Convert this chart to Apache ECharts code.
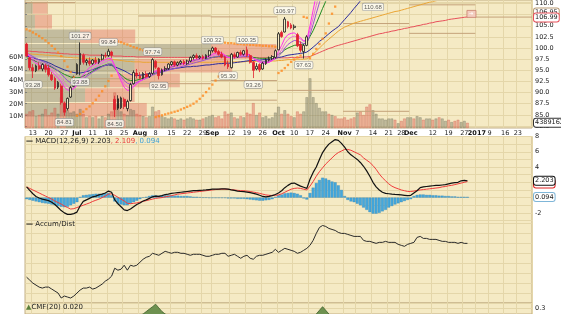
<!DOCTYPE html>
<html><head><meta charset="utf-8">
<script src="https://cdn.jsdelivr.net/npm/echarts@6/dist/echarts.min.js"></script>
<style>html,body{margin:0;padding:0;background:#fff}#c{width:561px;height:314px}</style>
</head><body><div id="c"></div><script>
// ---------- calendar / ticks ----------
const holidays=['2016-07-04','2016-09-05','2016-11-24','2016-12-26','2017-01-02','2017-01-16'];
const tickDates=['2016-06-13','2016-06-20','2016-06-27','2016-07-01','2016-07-11','2016-07-18','2016-07-25','2016-08-01','2016-08-08','2016-08-15','2016-08-22','2016-08-29','2016-09-01','2016-09-12','2016-09-19','2016-09-26','2016-10-03','2016-10-10','2016-10-17','2016-10-24','2016-11-01','2016-11-07','2016-11-14','2016-11-21','2016-11-28','2016-12-01','2016-12-12','2016-12-19','2016-12-27','2017-01-03','2017-01-09','2017-01-17','2017-01-23'];
const tickTexts=['13','20','27','Jul','11','18','25','Aug','8','15','22','29','Sep','12','19','26','Oct','10','17','24','Nov','7','14','21','28','Dec','12','19','27','2017','9','16','23'];

// ---------- price (OHLC) ----------
const openP=[100.9,97.8,95.6,94.9,96.0,95.3,96.1,95.5,94.0,93.2,
91.2,91.5,87.6,86.4,89.0,91.4,94.2,96.3,98.4,96.8,
97.1,96.5,97.3,96.8,97.5,98.4,98.3,99.1,88.5,88.6,
86.6,88.5,86.4,88.2,92.0,94.4,93.8,93.2,94.2,93.6,
94.3,97.0,95.5,94.0,95.1,95.4,96.3,96.9,96.2,96.6,
97.0,96.5,97.1,97.9,98.3,97.8,98.1,97.7,98.4,99.4,
100.0,99.2,98.6,98.0,96.4,95.6,98.5,98.0,99.0,98.6,
99.6,98.3,96.8,95.3,96.3,95.3,96.5,97.3,97.6,97.9,
99.6,103.5,103.6,105.9,105.2,104.6,103.0,100.8,99.2,100.6,
116.0,117.6,119.9,120.6,121.7,122.9,123.4,122.5,123.8,122.6,
121.3,120.1,118.9,117.5,116.3,115.4,116.7,115.1,113.9,113.0,
112.4,113.9,115.3,116.6,117.4,118.0,118.7,119.2,119.1,119.4,
118.7,118.3,119.0,119.6,119.2,119.9,120.4,120.2,121.0,121.3,
120.9,121.4,121.1,121.8,122.1,121.7,122.2,121.9,121.6,122.0,
122.4];
const highP=[101.2,98.0,96.4,96.3,96.8,96.6,96.5,96.2,94.6,93.6,
92.6,92.0,88.0,88.9,91.5,93.8,96.6,101.27,98.8,97.6,
97.9,97.5,98.0,97.7,98.7,99.0,99.84,99.4,89.3,89.4,
89.1,88.9,88.4,92.2,95.0,95.3,94.6,94.6,94.8,94.6,
97.74,97.3,95.7,95.4,95.9,96.6,97.1,97.2,97.0,97.3,
97.4,97.4,98.1,98.6,98.8,98.4,98.5,98.6,99.6,100.32,
100.2,99.6,99.2,98.3,97.2,98.9,99.0,99.2,99.5,99.6,
100.35,98.6,97.1,96.6,96.6,96.9,97.7,98.1,98.4,99.7,
103.6,103.9,106.97,106.1,105.6,105.3,103.4,101.5,100.9,102.9,
118.4,120.4,121.2,122.3,123.4,124.6,123.9,124.5,124.2,123.0,
121.9,120.6,119.5,118.2,117.0,117.4,117.1,115.8,114.6,113.6,
114.3,115.8,117.0,117.9,118.5,119.1,119.8,119.6,119.9,119.8,
119.2,119.4,120.1,120.0,120.3,120.9,120.8,121.4,121.8,121.6,
121.9,121.7,122.2,122.6,122.4,122.7,122.5,122.2,122.4,122.9,
122.8];
const lowP=[98.0,95.0,93.28,94.6,95.0,94.8,94.5,93.6,92.6,90.6,
90.8,87.3,84.81,86.0,88.8,91.2,94.0,93.88,96.3,96.1,
96.0,96.2,96.4,96.4,97.2,97.7,98.0,97.8,84.50,86.1,
86.3,86.3,85.8,88.0,91.8,93.2,93.0,93.0,93.2,93.3,
94.0,95.3,92.95,93.8,94.8,95.1,96.0,95.8,95.9,96.3,
96.2,96.2,96.8,97.4,97.5,97.5,97.4,97.5,98.0,99.0,
98.8,98.3,97.7,95.9,95.30,95.4,97.6,97.8,98.3,98.3,
98.0,96.5,93.26,95.0,94.6,95.1,96.2,97.0,97.3,97.6,
99.5,102.3,103.5,104.4,104.2,104.1,100.2,99.0,97.63,100.4,
115.2,117.0,119.2,120.0,121.2,122.3,121.8,122.0,122.0,120.9,
119.6,118.4,117.0,115.8,114.6,115.0,114.6,113.4,112.3,111.6,
110.68,113.4,114.9,116.1,116.9,117.5,118.2,118.4,118.7,118.3,
117.7,117.9,118.6,118.6,118.9,119.5,119.6,119.9,120.6,120.3,
120.5,120.6,120.8,121.4,121.2,121.4,121.5,121.1,121.3,121.7,
121.7];
const closeP=[98.2,95.6,94.9,96.0,95.3,96.3,95.2,94.0,92.9,91.0,
92.3,87.8,85.6,88.7,91.1,93.5,96.3,98.8,96.8,97.2,
96.5,97.3,96.8,97.5,98.4,98.2,99.3,98.4,86.2,86.5,
88.8,86.9,88.0,91.8,94.5,93.8,93.2,94.3,93.5,94.2,
97.4,95.7,93.8,95.1,95.4,96.4,96.9,96.2,96.7,97.0,
96.5,97.1,97.9,98.3,97.8,98.1,97.7,98.4,99.4,100.0,
99.1,98.6,98.0,96.2,95.8,98.6,98.0,99.0,98.6,99.4,
98.3,96.8,95.0,95.9,95.1,96.6,97.3,97.6,98.1,99.4,
103.2,102.6,106.5,104.8,104.5,104.9,100.5,99.5,100.6,102.5,
117.5,119.8,120.5,121.6,122.8,123.5,122.4,123.9,122.6,121.4,
120.2,119.0,117.6,116.4,115.3,116.8,115.2,114.0,113.1,112.5,
113.8,115.2,116.5,117.3,117.9,118.6,119.2,119.0,119.5,118.8,
118.2,118.9,119.6,119.1,119.8,120.4,120.1,120.9,121.3,120.8,
121.4,121.0,121.7,122.1,121.6,122.2,121.9,121.5,122.0,122.4,
122.1];

// ---------- moving averages ----------
const maRed=[99.3,99.3,99.2,99.2,99.1,99.1,99.0,99.0,98.9,98.9,
98.8,98.8,98.7,98.7,98.6,98.6,98.6,98.5,98.5,98.5,
98.4,98.4,98.4,98.4,98.3,98.3,98.3,98.3,98.2,98.2,
98.2,98.1,98.1,98.1,98.1,98.0,98.0,98.0,98.0,98.0,
97.9,97.9,97.9,97.9,97.9,97.9,97.9,97.9,97.9,97.9,
97.9,97.9,97.9,97.9,97.9,97.9,97.9,97.9,97.8,97.8,
97.8,97.8,97.8,97.8,97.8,97.8,97.8,97.8,97.8,97.8,
97.8,97.8,97.8,97.8,97.8,97.8,97.8,97.8,97.8,97.8,
97.8,97.8,97.8,97.8,97.9,97.9,97.9,97.9,98.0,98.0,
98.1,98.4,98.7,99.0,99.3,99.6,99.9,100.1,100.4,100.6,
100.8,101.0,101.2,101.4,101.6,101.8,102.0,102.2,102.4,102.6,
102.8,103.0,103.2,103.3,103.5,103.6,103.8,103.9,104.1,104.2,
104.4,104.5,104.7,104.8,105.0,105.1,105.3,105.4,105.6,105.7,
105.9,106.0,106.1,106.2,106.4,106.5,106.6,106.7,106.8,106.9,
106.99];
const maOrange=[98.7,98.7,98.6,98.6,98.5,98.5,98.4,98.4,98.3,98.3,
98.2,98.1,98.0,97.9,97.9,97.8,97.8,97.7,97.7,97.7,
97.6,97.6,97.6,97.5,97.5,97.5,97.5,97.5,97.4,97.3,
97.2,97.1,97.0,97.0,96.9,96.9,96.9,96.8,96.8,96.8,
96.8,96.8,96.8,96.8,96.8,96.8,96.8,96.8,96.8,96.8,
96.8,96.8,96.8,96.8,96.8,96.8,96.8,96.8,96.8,96.8,
96.9,96.9,96.9,96.9,96.9,96.9,96.9,96.9,96.9,96.9,
97.0,97.0,97.0,97.0,97.0,97.0,97.0,97.1,97.1,97.1,
97.2,97.2,97.3,97.4,97.4,97.5,97.5,97.5,97.5,97.6,
98.0,98.6,99.3,100.0,100.7,101.4,102.0,102.6,103.2,103.8,
104.3,104.7,105.0,105.3,105.6,105.8,106.0,106.2,106.4,106.6,
106.8,107.0,107.2,107.4,107.6,107.8,108.0,108.2,108.3,108.5,
108.7,108.9,109.1,109.3,109.5,109.7,109.9,110.1,110.3,110.4,
110.6,110.8,111.0];
const maNavy=[98.2,98.0,97.8,97.6,97.4,97.2,97.0,96.7,96.4,96.0,
95.7,95.4,95.1,94.9,94.7,94.5,94.4,94.4,94.5,94.7,
94.9,95.2,95.4,95.7,95.9,96.1,96.2,96.1,95.8,95.5,
95.2,94.9,94.5,94.1,93.8,93.8,93.9,94.0,94.1,94.3,
94.4,94.6,94.7,94.8,95.0,95.2,95.3,95.4,95.5,95.6,
95.7,95.8,95.8,95.9,95.9,96.0,96.1,96.2,96.2,96.3,
96.4,96.5,96.5,96.6,96.6,96.6,96.7,96.8,96.9,97.0,
97.1,97.2,97.2,97.3,97.3,97.4,97.4,97.5,97.6,97.7,
97.9,98.0,98.2,98.4,98.5,98.6,98.7,98.8,98.9,99.1,
99.6,100.2,100.8,101.5,102.0,102.6,103.2,103.8,104.3,104.8,
105.6,106.4,107.2,108.0,108.9,109.7,110.6,111.4];
const maGreen=[97.8,97.6,97.3,97.0,96.8,96.5,96.2,96.0,95.7,95.3,
94.9,94.5,94.1,93.8,93.5,93.4,93.3,93.4,93.7,94.0,
94.4,94.8,95.2,95.6,95.9,96.2,96.4,96.3,95.5,94.6,
94.0,93.4,92.9,92.7,92.7,92.8,93.0,93.2,93.5,93.8,
94.1,94.4,94.6,94.9,95.2,95.5,95.7,95.9,96.1,96.3,
96.5,96.7,96.9,97.1,97.3,97.5,97.6,97.7,97.8,97.9,
98.0,98.1,98.2,98.2,98.2,98.2,98.2,98.2,98.2,98.2,
98.2,98.1,97.9,97.8,97.7,97.7,97.7,97.8,97.9,98.1,
98.6,99.0,99.6,100.0,100.3,100.6,100.7,100.8,100.9,101.3,
102.6,103.9,105.5,107.2,108.9,110.5,112.0];
const maPurple=[98.9,98.5,98.1,97.7,97.3,97.0,96.7,96.3,95.9,95.4,
94.9,94.2,93.4,92.7,92.2,92.0,92.1,92.6,93.1,93.6,
94.1,94.6,95.0,95.4,95.8,96.1,96.4,96.5,95.6,94.6,
93.6,92.7,92.1,91.9,92.0,92.3,92.6,92.9,93.2,93.5,
93.9,94.2,94.4,94.6,94.8,95.0,95.2,95.4,95.6,95.8,
96.0,96.2,96.4,96.6,96.8,97.0,97.2,97.4,97.6,97.9,
98.1,98.2,98.3,98.1,97.9,97.8,97.8,97.9,98.0,98.1,
98.2,98.0,97.7,97.4,97.2,97.0,97.0,97.1,97.3,97.6,
98.2,98.9,100.0,100.8,101.3,101.7,101.6,101.3,101.0,101.1,
103.0,105.3,107.8,110.2,112.5];
const maPink=[98.9,98.3,97.7,97.2,96.8,96.5,96.2,95.8,95.3,94.7,
94.0,93.2,92.2,91.4,91.0,91.0,91.5,92.4,93.2,94.0,
94.7,95.3,95.8,96.2,96.6,96.9,97.2,97.2,96.0,94.6,
93.2,92.0,91.2,91.1,91.5,92.0,92.5,92.9,93.3,93.7,
94.2,94.6,94.7,94.9,95.1,95.4,95.6,95.8,96.0,96.2,
96.4,96.6,96.8,97.0,97.2,97.4,97.6,97.8,98.0,98.3,
98.5,98.6,98.6,98.3,97.9,97.8,97.9,98.0,98.2,98.3,
98.4,98.2,97.7,97.3,97.0,96.8,96.8,96.9,97.2,97.6,
98.6,99.6,101.0,101.9,102.4,102.7,102.4,102.0,101.5,101.6,
104.0,106.8,109.6,112.4];
const maMagenta=[98.9,98.0,97.2,96.6,96.2,96.0,95.8,95.4,94.8,94.0,
93.3,92.4,91.2,90.6,90.5,90.9,91.8,93.0,94.0,94.9,
95.6,96.1,96.5,96.8,97.1,97.4,97.7,97.6,96.0,94.3,
92.6,91.2,90.5,90.6,91.3,92.0,92.6,93.0,93.5,93.9,
94.5,94.9,94.8,95.0,95.3,95.6,95.9,96.1,96.3,96.5,
96.6,96.8,97.0,97.3,97.5,97.6,97.8,98.0,98.2,98.6,
98.9,99.0,98.9,98.4,97.9,97.9,98.0,98.2,98.4,98.6,
98.7,98.4,97.7,97.2,96.8,96.6,96.6,96.8,97.2,97.8,
99.2,100.6,102.2,103.0,103.3,103.4,102.9,102.3,101.6,101.8,
105.0,108.5,112.0];

// ---------- parabolic SAR ----------
const sar=[104.2,103.9,103.5,103.1,102.7,102.2,101.7,101.1,100.5,99.8,
99.0,98.2,97.1,95.8,94.6,93.4,84.8,85.2,85.7,86.3,
86.9,87.6,88.4,89.3,90.3,91.4,92.6,93.8,101.7,101.5,
101.3,101.0,100.8,100.5,100.2,100.0,99.7,99.5,99.3,99.1,
98.9,84.5,84.7,84.9,85.1,85.3,85.5,85.7,85.9,86.2,
86.5,86.8,87.1,87.5,88.0,88.6,89.3,90.1,90.9,91.8,
92.7,93.6,94.4,101.2,101.1,101.1,101.0,100.9,100.9,100.8,
100.8,100.7,100.7,100.6,100.6,100.5,100.5,100.4,100.4,100.3,
94.4,94.9,95.5,96.2,96.9,97.4,97.9,98.3,107.0,106.8,
97.7,98.7,99.8,100.9,102.1,103.3,105.5,107.7,109.3,110.9,
112.2,113.4,114.5,115.6,124.6,124.4,124.1,123.8,123.5,123.2,
122.9,122.6,110.7,111.0,111.4,111.8,112.3,112.8,113.3,113.8,
114.3,114.7,115.1,115.5,115.9,116.3,116.6,116.9,117.2,117.5,
117.8,118.1,118.4,118.7,119.0,119.3,119.5,119.7,119.9,120.1,
120.3];

// ---------- volume (millions) ----------
const volume=[12,14,15,10,11,12,16,11,13,17,
12,26,22,15,13,14,12,16,12,9,
10,9,10,8,10,9,12,14,30,20,
14,12,11,16,15,12,11,10,9,10,
18,14,15,10,9,8,9,8,7,8,
7,8,9,8,7,7,8,9,10,11,
9,10,8,14,12,13,9,8,10,9,
13,12,21,11,13,9,10,8,9,13,
18,12,15,12,10,9,14,12,14,26,
42,26,21,17,14,14,12,11,10,8,
8,9,7,8,9,13,14,11,18,20,
15,12,8,8,7,8,8,7,4,6,
8,9,9,8,10,9,7,8,8,7,
8,9,8,6,7,5,6,7,5,6,
4.389162];

// ---------- volume by price ----------
const vbpLow=[84.5,87.8,91.1,94.4,97.7,101.0,104.3,107.6];
const vbpHigh=[87.8,91.1,94.4,97.7,101.0,104.3,107.6,110.9];
const vbpUp=[76,109,154,199,338,100,18,14];
const vbpDown=[145,90,127,177,118,100,31,27];

// ---------- pivot segments ----------
const pivotFrom=['2016-06-09','2016-07-01','2016-08-01','2016-08-01','2016-09-01','2016-09-01','2016-09-01','2016-10-03','2016-11-01','2016-11-01','2016-12-01','2016-12-01','2017-01-03'];
const pivotTo=['2016-06-30','2016-07-29','2016-08-31','2016-08-31','2016-09-30','2016-09-30','2016-09-30','2016-10-31','2016-11-30','2016-11-30','2016-12-30','2016-12-30','2017-01-27'];
const pivotLevel=[110.2,93.1,107.2,92.0,107.0,92.7,88.3,90.5,105.5,85.8,109.7,103.3,106.95];

// ---------- high/low annotations ----------
const annDates=['2016-07-05','2016-07-18','2016-08-05','2016-09-01','2016-09-19','2016-10-05','2016-06-13','2016-06-27','2016-07-05','2016-07-20','2016-08-09','2016-09-09','2016-09-21','2016-10-13','2016-11-14'];
const annValues=[101.27,99.84,97.74,100.32,100.35,106.97,93.28,84.81,93.88,84.50,92.95,95.30,93.26,97.63,110.68];
const annKinds=['H','H','H','H','H','H','L','L','L','L','L','L','L','L','L'];

// ---------- MACD ----------
const macd=[1.4,0.95,0.5,0.15,-0.05,-0.2,-0.3,-0.4,-0.6,-0.9,
-1.3,-1.7,-2.0,-2.2,-2.2,-2.1,-1.9,-1.1,-0.5,-0.3,
-0.1,0.1,0.2,0.35,0.45,0.6,0.85,0.7,-0.3,-0.8,
-1.2,-1.6,-1.7,-1.5,-1.2,-0.9,-0.7,-0.45,-0.3,-0.1,
0.1,0.2,0.15,0.25,0.4,0.45,0.55,0.6,0.65,0.7,
0.75,0.8,0.85,0.9,0.92,0.95,0.97,1.0,1.05,1.1,
1.1,1.12,1.15,1.15,1.1,1.0,0.95,0.85,0.8,0.78,
0.72,0.65,0.55,0.45,0.3,0.15,0.1,0.15,0.25,0.4,
0.6,0.9,1.3,1.6,1.85,1.9,1.7,1.5,1.35,1.2,
2.4,3.3,4.0,5.0,5.9,6.5,7.0,7.3,7.6,7.5,
7.1,6.6,6.0,5.6,5.3,5.0,4.6,4.1,3.5,2.8,
2.0,1.4,1.0,0.7,0.55,0.5,0.45,0.42,0.4,0.35,
0.3,0.25,0.3,0.6,0.9,1.3,1.4,1.45,1.5,1.55,
1.6,1.6,1.65,1.7,1.8,1.9,1.95,2.0,2.2,2.25,
2.203];
const signal=[1.4,1.2,1.0,0.8,0.6,0.4,0.2,0.0,-0.2,-0.45,
-0.65,-0.85,-1.1,-1.3,-1.5,-1.45,-1.3,-1.15,-1.0,-0.85,
-0.7,-0.5,-0.35,-0.2,0.0,0.2,0.45,0.5,0.3,0.05,
-0.2,-0.45,-0.75,-0.8,-0.75,-0.7,-0.6,-0.5,-0.4,-0.3,
-0.2,-0.1,-0.05,0.0,0.1,0.15,0.25,0.35,0.45,0.5,
0.55,0.6,0.65,0.7,0.75,0.8,0.85,0.9,0.95,1.0,
1.05,1.08,1.1,1.1,1.08,1.05,1.0,0.95,0.92,0.9,
0.85,0.8,0.72,0.65,0.55,0.45,0.35,0.3,0.28,0.3,
0.35,0.5,0.7,0.9,1.1,1.2,1.25,1.2,1.1,1.0,
1.5,2.1,2.8,3.4,3.9,4.4,4.8,5.2,5.6,5.9,
6.1,6.3,6.3,6.2,6.0,5.8,5.6,5.2,4.9,4.6,
4.2,3.7,3.1,2.6,2.2,1.8,1.5,1.3,1.15,1.0,
0.9,0.8,0.8,0.85,0.95,1.0,1.05,1.1,1.15,1.2,
1.25,1.3,1.4,1.45,1.55,1.6,1.7,1.8,1.9,2.0,
2.109];
const hist=[-0.2,-0.3,-0.4,-0.5,-0.6,-0.7,-0.75,-0.8,-0.9,-1.0,
-1.1,-1.2,-1.25,-1.2,-1.0,-0.8,-0.6,0.1,0.3,0.35,
0.4,0.45,0.5,0.5,0.5,0.55,0.6,0.3,-0.5,-0.8,
-0.9,-1.0,-1.0,-0.8,-0.6,-0.4,-0.2,0.0,0.1,0.2,
0.3,0.3,0.25,0.3,0.3,0.3,0.3,0.25,0.25,0.2,
0.2,0.2,0.15,0.1,0.1,0.05,0.0,0.0,-0.05,-0.05,
-0.05,-0.05,-0.05,-0.05,-0.1,-0.1,-0.1,-0.15,-0.15,-0.15,
-0.2,-0.25,-0.3,-0.35,-0.4,-0.4,-0.35,-0.3,-0.2,0.1,
0.3,0.4,0.55,0.6,0.65,0.6,0.5,0.3,-0.1,-0.25,
0.6,1.3,1.9,2.3,2.6,2.5,2.3,2.1,2.0,1.6,
1.0,0.2,-0.3,-0.5,-0.6,-0.8,-1.0,-1.3,-1.6,-1.9,
-2.1,-2.1,-2.0,-1.8,-1.6,-1.3,-1.1,-0.9,-0.75,-0.6,
-0.45,-0.3,-0.2,0.2,0.35,0.4,0.4,0.35,0.35,0.3,
0.3,0.25,0.25,0.2,0.2,0.15,0.15,0.1,0.1,0.1,
0.094];

// ---------- Accum/Dist (relative units) ----------
const accDist=[26,23,20,18,16,15,16,16,14,12,
10,5,7,6,5,7,10,13,15,15,
16,14,15,17,19,22,24,27,35,33,
34,38,33,38,37,38,41,44,46,47,
50,49,48,50,52,51,50,51,51,50,
50,49,48,49,49,49,48,47,47,48,
49,49,50,50,47,48,49,47,45,47,
48,45,44,47,48,48,49,50,51,54,
51,53,55,54,53,52,50,51,53,55,
58,63,70,76,78,77,75,74,73,71,
70,70,69,68,67,67,67,63,62,62,
61,60,61,61,62,61,61,61,59,58,
57,59,60,61,66,67,65,65,64,64,
64,63,62,62,61,61,61,60,61,60,
60];

// ---------- CMF(20) ----------
const cmf=[0.06,0.05,0.03,0.02,0.01,0.0,-0.02,-0.03,-0.05,-0.07,
-0.08,-0.12,-0.15,-0.13,-0.1,-0.08,-0.05,-0.02,0.0,0.01,
0.02,0.03,0.05,0.06,0.08,0.1,0.12,0.13,0.18,0.17,
0.2,0.21,0.2,0.22,0.23,0.24,0.24,0.25,0.27,0.29,
0.31,0.33,0.3,0.27,0.25,0.24,0.22,0.21,0.2,0.19,
0.18,0.17,0.15,0.14,0.13,0.12,0.12,0.11,0.1,0.1,
0.09,0.08,0.07,0.06,0.05,0.06,0.05,0.04,0.03,0.04,
0.05,0.04,0.03,0.05,0.06,0.07,0.08,0.1,0.11,0.12,
0.14,0.15,0.17,0.18,0.18,0.17,0.16,0.17,0.18,0.19,
0.2,0.22,0.25,0.28,0.31,0.28,0.25,0.23,0.22,0.21,
0.2,0.19,0.18,0.17,0.16,0.15,0.14,0.13,0.12,0.11,
0.1,0.09,0.08,0.07,0.07,0.06,0.05,0.05,0.04,0.04,
0.03,0.03,0.04,0.05,0.06,0.07,0.07,0.06,0.05,0.05,
0.04,0.04,0.03,0.03,0.03,0.02,0.02,0.02,0.02,0.02,
0.02];

// ================= build =================
const dates=(()=>{const out=[];let t=Date.UTC(2016,5,9);const end=Date.UTC(2017,0,27);
  while(t<=end){const d=new Date(t);const wd=d.getUTCDay();const s=d.toISOString().slice(0,10);
    if(wd>0&&wd<6&&holidays.indexOf(s)<0)out.push(s);t+=86400000;}return out;})();
const N=closeP.length;
const idx=d=>dates.indexOf(d);
const tickMap={};tickDates.forEach((d,i)=>tickMap[d]=tickTexts[i]);
const isBold=t=>isNaN(+t)||t.length===4;
const F="'DejaVu Sans', Verdana, sans-serif";
const FA="'Liberation Sans', Arial, sans-serif";
const BG='#f5eac4', GRID='#e4d6a9', BORDER='#c2ae84';
const L=25,R=29;

function catAxis(gi,extra){return Object.assign({type:'category',gridIndex:gi,data:dates,boundaryGap:true,
  axisLine:{show:false},axisTick:{show:false},axisLabel:{show:false},
  splitLine:{show:true,interval:(i,v)=>tickMap[v]!==undefined,lineStyle:{color:GRID,width:1}}},extra||{});}

const candleData=closeP.map((c,i)=>{const o=openP[i];const prev=i>0?closeP[i-1]:o;
  const col=c>=prev?'#1a1a1a':'#e0212e';const hollow=c>o;
  return {value:[o,c,lowP[i],highP[i]],itemStyle:{color:hollow?BG:col,color0:hollow?BG:col,borderColor:col,borderColor0:col,borderWidth:0.8}};});
const volData=volume.map((v,i)=>{const up=i===0?closeP[i]>=openP[i]:closeP[i]>=closeP[i-1];
  return {value:v,itemStyle:{color:up?'rgba(112,116,92,0.40)':'rgba(222,92,78,0.42)',borderColor:up?'rgba(100,100,80,0.55)':'rgba(200,80,70,0.55)',borderWidth:0.5}};});

function maSeries(name,arr,color,extra){return Object.assign({name,type:'line',xAxisIndex:0,yAxisIndex:0,data:arr,showSymbol:false,
  symbol:'none',clip:true,lineStyle:{color,width:1},z:4,silent:true,animation:false},extra||{});}

function endBox(text,border,value,offsetY){return {symbol:'none',silent:true,animation:false,
  lineStyle:{color:'rgba(0,0,0,0)',width:0,type:'solid'},
  label:{show:true,position:'end',distance:2,formatter:()=>text,fontSize:6.5,fontFamily:F,color:'#222',
    backgroundColor:'#ffffff',borderColor:border,borderWidth:1,padding:[1,1,0,1],borderRadius:2,offset:[0,offsetY||0]},
  data:[{yAxis:value}]};}

const annData=annDates.map((d,i)=>({value:[idx(d),annValues[i]],
  label:{position:annKinds[i]==='H'?'top':'bottom'}}));
const lastRed=maRed.length-1;

const option={
  animation:false,
  backgroundColor:'#ffffff',
  title:[
    {left:26,top:138,padding:0,text:'{k|—} MACD(12,26,9) '+macd[N-1].toFixed(3)+'{r|, '+signal[N-1].toFixed(3)+'}{b|, '+hist[N-1].toFixed(3)+'}',
     textStyle:{fontSize:7,fontFamily:F,fontWeight:'normal',color:'#222',
       rich:{k:{fontSize:7,fontFamily:F,color:'#000',fontWeight:'bold'},r:{fontSize:7,fontFamily:F,color:'#e83a3a'},b:{fontSize:7,fontFamily:F,color:'#3a9fd8'}}}},
    {left:26,top:221,padding:0,text:'{k|—} Accum/Dist',
     textStyle:{fontSize:7,fontFamily:F,fontWeight:'normal',color:'#222',rich:{k:{fontSize:7,fontFamily:F,color:'#000',fontWeight:'bold'}}}},
    {left:26,top:304,padding:0,text:'{g|▲}CMF(20) '+cmf[N-1].toFixed(3),
     textStyle:{fontSize:7,fontFamily:F,fontWeight:'normal',color:'#222',rich:{g:{fontSize:7,color:'#5a7f3a'}}}}
  ],
  grid:[
    {left:L,right:R,top:0,height:126,show:false},
    {left:L,right:R,top:0,height:128,show:true,backgroundColor:BG,borderColor:BORDER,borderWidth:1},
    {left:L,right:R,top:136.5,height:84,show:true,backgroundColor:BG,borderColor:BORDER,borderWidth:1},
    {left:L,right:R,top:220.5,height:82.5,show:true,backgroundColor:BG,borderColor:BORDER,borderWidth:1},
    {left:L,right:R,top:303,height:11,show:true,backgroundColor:BG,borderColor:BORDER,borderWidth:1}
  ],
  xAxis:[
    catAxis(0,{splitLine:{show:false}}),
    {type:'value',gridIndex:0,min:0,max:920,position:'top',show:false},
    catAxis(1,{axisLabel:{show:true,interval:0,margin:2,fontSize:6.5,fontFamily:F,color:'#222',
      formatter:v=>{const t=tickMap[v];if(!t)return '';return isBold(t)?'{b|'+t+'}':t;},
      rich:{b:{fontWeight:'bold',fontSize:6.5,fontFamily:F,color:'#111'}}}}),
    catAxis(2),
    catAxis(3),
    catAxis(4)
  ],
  yAxis:[
    {type:'value',gridIndex:0,position:'right',min:82.5,max:110.376,interval:2.5,
     axisLine:{show:false},axisTick:{show:true,length:2,lineStyle:{color:'#888'}},
     axisLabel:{fontSize:6.5,fontFamily:F,color:'#222',margin:3,
       formatter:v=>Math.abs(v/2.5-Math.round(v/2.5))<1e-6?v.toFixed(1):''},
     splitLine:{show:true,lineStyle:{color:GRID,width:1}}},
    {type:'value',gridIndex:1,position:'left',min:0,max:108.2,interval:10,
     axisLine:{show:false},axisTick:{show:false},splitLine:{show:false},
     axisLabel:{fontSize:6.5,fontFamily:F,color:'#222',margin:2,formatter:v=>(v>=10&&v<=60)?v+'M':''}},
    {type:'value',gridIndex:2,position:'right',min:-3,max:8,interval:1,
     axisLine:{show:false},axisTick:{show:false},
     axisLabel:{fontSize:6.5,fontFamily:F,color:'#222',margin:3,formatter:v=>(v%2===0&&v!==0&&v!==2)?String(v):''},
     splitLine:{show:true,lineStyle:{color:GRID,width:1}}},
    {type:'value',gridIndex:3,position:'right',min:0,max:83,interval:10,
     axisLine:{show:false},axisTick:{show:false},axisLabel:{show:false},
     splitLine:{show:true,lineStyle:{color:GRID,width:1}}},
    {type:'value',gridIndex:4,position:'right',min:0.25,max:0.34,interval:0.05,
     axisLine:{show:false},axisTick:{show:false},
     axisLabel:{fontSize:6.5,fontFamily:F,color:'#222',margin:3,
       formatter:v=>Math.abs(v-0.3)<1e-6?'0.3':''},
     splitLine:{show:true,lineStyle:{color:GRID,width:1}}}
  ],
  series:[
    {name:'VBP',type:'custom',xAxisIndex:1,yAxisIndex:0,clip:true,silent:true,z:1,
     data:vbpLow.map((lo,i)=>[lo,vbpHigh[i],vbpUp[i],vbpDown[i]]),
     encode:{x:2,y:[0,1]},
     renderItem:(p,api)=>{const lo=api.value(0),hi=api.value(1),up=api.value(2),dn=api.value(3);
       const a=api.coord([0,hi]),b=api.coord([up,lo]),c=api.coord([up+dn,lo]);
       const y=a[1]+0.5,h=b[1]-a[1]-1;
       return {type:'group',children:[
         {type:'rect',shape:{x:a[0],y:y,width:b[0]-a[0],height:h},style:{fill:'rgba(108,108,92,0.36)'}},
         {type:'rect',shape:{x:b[0],y:y,width:c[0]-b[0],height:h},style:{fill:'rgba(222,88,78,0.36)'}}]};}},
    {name:'Volume',type:'bar',xAxisIndex:2,yAxisIndex:1,data:volData,barCategoryGap:'12%',z:2,silent:true,
     markLine:endBox(String(Math.round(volume[N-1]*1e6)),'#333',volume[N-1],0)},
    {name:'Pivots',type:'custom',xAxisIndex:0,yAxisIndex:0,clip:true,silent:true,z:3,
     data:pivotLevel.map((v,i)=>[idx(pivotFrom[i]),idx(pivotTo[i]),v]),
     encode:{x:[0,1],y:2},
     renderItem:(p,api)=>{const s=api.coord([api.value(0),api.value(2)]),e=api.coord([api.value(1),api.value(2)]);
       const bw=api.size([1,0])[0];
       return {type:'line',shape:{x1:s[0]-bw/2,y1:s[1],x2:e[0]+bw/2,y2:e[1]},style:{stroke:'#c4a27a',lineWidth:1}};},
     markLine:endBox(pivotLevel[pivotLevel.length-1].toFixed(2),'#b89a74',pivotLevel[pivotLevel.length-1],-4.5)},
    maSeries('MA red',maRed,'#e8505a',{
      markLine:endBox(maRed[lastRed].toFixed(2),'#e8505a',maRed[lastRed],0.5),
      markPoint:{silent:true,animation:false,symbol:'rect',symbolSize:[9,7],symbolOffset:[4,-3],
        itemStyle:{color:'#f3cdbf',borderColor:'#c9806e',borderWidth:0.8},
        label:{show:true,formatter:'⇥',fontSize:5,color:'#fff',position:'inside'},
        data:[{coord:[lastRed,maRed[lastRed]]}]}}),
    maSeries('MA orange',maOrange,'#eaa535'),
    maSeries('MA navy',maNavy,'#2b2b9c'),
    maSeries('MA green',maGreen,'#1f8a24'),
    maSeries('MA purple',maPurple,'#9b4fd6'),
    maSeries('MA pink',maPink,'#e86fd8'),
    maSeries('MA magenta',maMagenta,'#ff2cf0'),
    {name:'Price',type:'candlestick',xAxisIndex:0,yAxisIndex:0,data:candleData,clip:true,barWidth:'72%',z:5,silent:true},
    {name:'SAR',type:'scatter',xAxisIndex:0,yAxisIndex:0,data:sar,symbol:'rect',symbolSize:2.3,clip:true,
     itemStyle:{color:'#ff8a1e'},z:6,silent:true},
    {name:'HiLo',type:'scatter',xAxisIndex:0,yAxisIndex:0,data:annData,symbolSize:0,clip:false,z:7,silent:true,
     label:{show:true,distance:3,formatter:p=>p.value[1].toFixed(2),fontSize:6,fontFamily:FA,color:'#333',
       backgroundColor:'#fffef6',borderColor:'#8c8c8c',borderWidth:0.6,borderRadius:1.5,padding:[1,1.5,0,1.5]}},
    {name:'Hist',type:'bar',xAxisIndex:3,yAxisIndex:2,data:hist,barCategoryGap:'10%',silent:true,z:2,
     itemStyle:{color:'#45a8dc',borderColor:'#2a7fb0',borderWidth:0.3},
     markLine:endBox(hist[N-1].toFixed(3),'#7fb6d8',hist[N-1],0)},
    {name:'Signal',type:'line',xAxisIndex:3,yAxisIndex:2,data:signal,showSymbol:false,symbol:'none',silent:true,z:3,
     lineStyle:{color:'#f03c3c',width:1},
     markLine:endBox(signal[N-1].toFixed(3),'#e02020',signal[N-1],2)},
    {name:'MACD',type:'line',xAxisIndex:3,yAxisIndex:2,data:macd,showSymbol:false,symbol:'none',silent:true,z:4,
     lineStyle:{color:'#111',width:1.2},
     markLine:endBox(macd[N-1].toFixed(3),'#111',macd[N-1],0)},
    {name:'AccDist',type:'line',xAxisIndex:4,yAxisIndex:3,data:accDist,showSymbol:false,symbol:'none',silent:true,
     lineStyle:{color:'#2a2a2a',width:1}},
    {name:'CMF',type:'line',xAxisIndex:5,yAxisIndex:4,data:cmf,showSymbol:false,symbol:'none',silent:true,clip:true,
     lineStyle:{color:'#3f5f2c',width:0.8},areaStyle:{color:'#6e9150',origin:'start',opacity:1}}
  ]
};
const chart=echarts.init(document.getElementById('c'),null,{renderer:'canvas',width:561,height:314});
chart.setOption(option);
</script></body></html>
